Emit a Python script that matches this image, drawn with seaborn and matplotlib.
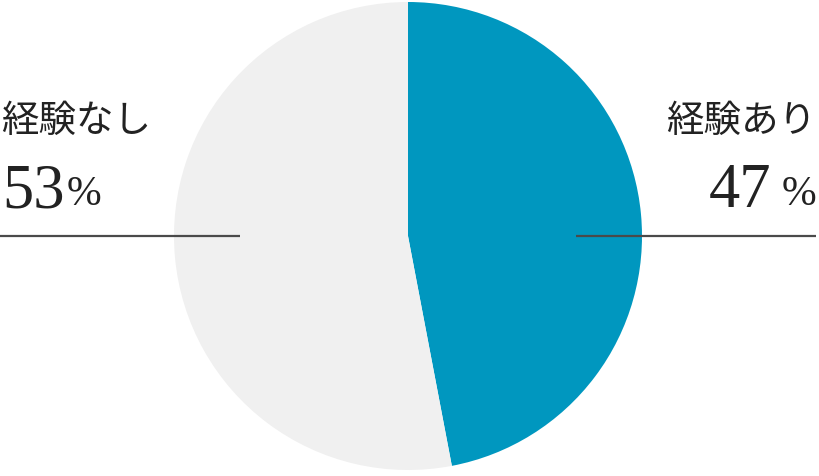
import matplotlib
matplotlib.use("Agg")
import matplotlib.pyplot as plt
import seaborn as sns

# データ
labels = ["経験あり", "経験なし"]
values = [47, 53]
colors = ["#0097bf", "#f0f0f0"]

sns.set_theme(style="white")
plt.rcParams['font.family'] = ['Noto Sans CJK JP', 'DejaVu Sans']

W, H = 820, 476
fig = plt.figure(figsize=(W / 100, H / 100), dpi=100)
ax = fig.add_axes([0, 0, 1, 1])

# 円グラフ（12時から時計回り）
ax.pie(values, colors=colors, startangle=90, counterclock=False,
       radius=1.0, center=(0, 0), wedgeprops=dict(linewidth=0))

# ピクセル -> データ座標 (中心 408,236 半径 234px)
cx, cy, r = 408, 236, 234
ax.set_xlim((0 - cx) / r, (W - cx) / r)
ax.set_ylim(-(H - cy) / r, cy / r)
ax.set_aspect('auto')
ax.axis('off')

def px(x):
    return (x - cx) / r

ax.hlines(0, px(0), px(240), color="#4a4a4a", linewidth=1.6)
ax.hlines(0, px(576), px(816), color="#4a4a4a", linewidth=1.6)

def fx(x):
    return x / W

def fy(y):
    return 1 - y / H

txt_color = "#222222"
serif = ['Liberation Serif', 'DejaVu Serif']

# 左ラベル
fig.text(fx(1), fy(121), labels[1], fontsize=27, color=txt_color,
         ha='left', va='center')
fig.text(fx(2), fy(207), f"{values[1]}", fontsize=45, color=txt_color,
         ha='left', va='baseline', family=serif)
fig.text(fx(67), fy(205), "%", fontsize=30, color=txt_color,
         ha='left', va='baseline', family=serif)

# 右ラベル
fig.text(fx(816), fy(121), labels[0], fontsize=27, color=txt_color,
         ha='right', va='center')
fig.text(fx(771), fy(207), f"{values[0]}", fontsize=45, color=txt_color,
         ha='right', va='baseline', family=serif)
fig.text(fx(816), fy(205), "%", fontsize=30, color=txt_color,
         ha='right', va='baseline', family=serif)

fig.savefig("out.png", dpi=100)
plt.close(fig)
